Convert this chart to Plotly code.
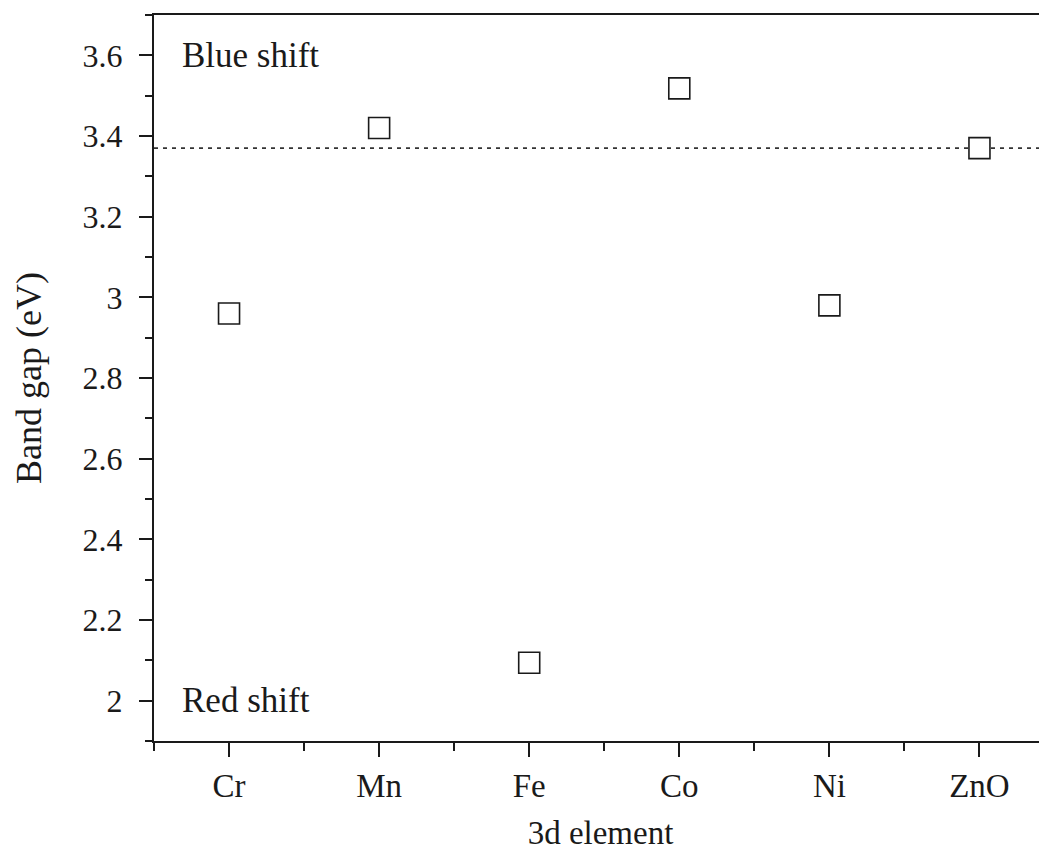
import plotly.graph_objects as go

categories = ["Cr", "Mn", "Fe", "Co", "Ni", "ZnO"]
band_gap = [2.96, 3.42, 2.094, 3.518, 2.98, 3.37]
zno_gap = 3.37
y_ticks = [2, 2.2, 2.4, 2.6, 2.8, 3, 3.2, 3.4, 3.6]
y_tick_text = ["2", "2.2", "2.4", "2.6", "2.8", "3", "3.2", "3.4", "3.6"]

x_idx = list(range(len(categories)))
FONT = "Liberation Serif"
INK = "#1a1a1a"

fig = go.Figure()
fig.add_trace(go.Scatter(
    x=x_idx, y=band_gap, mode="markers",
    marker=dict(symbol="square", size=21, color="white",
                line=dict(color=INK, width=1.6)),
    showlegend=False, cliponaxis=False,
))

fig.add_shape(type="line", xref="paper", x0=0, x1=1, yref="y", y0=zno_gap, y1=zno_gap,
              line=dict(color="#333", width=1.8, dash="4px,5px"), layer="below")

fig.add_annotation(x=-0.33, y=3.6, xref="x", yref="y", text="Blue shift", showarrow=False,
                   xanchor="left", yanchor="middle", font=dict(family=FONT, size=35, color=INK))
fig.add_annotation(x=-0.33, y=2.0, xref="x", yref="y", text="Red shift", showarrow=False,
                   xanchor="left", yanchor="middle", font=dict(family=FONT, size=35, color=INK))

fig.update_layout(
    width=1039, height=846,
    margin=dict(l=146, r=0, t=7, b=113),
    paper_bgcolor="white", plot_bgcolor="white",
    font=dict(family=FONT, size=32, color=INK),
    xaxis=dict(
        range=[-0.5, 5.45], tickmode="array", tickvals=x_idx, ticktext=categories,
        showline=True, linecolor=INK, linewidth=2, mirror=True,
        ticks="outside", ticklen=14, tickwidth=1.6, tickcolor=INK,
        showgrid=False, zeroline=False, ticklabelstandoff=0,
        minor=dict(tickmode="linear", tick0=-0.5, dtick=1, ticks="outside",
                   ticklen=8, tickwidth=1.6, tickcolor=INK, showgrid=False),
        tickfont=dict(family=FONT, size=33),
        title=dict(text="3d element", font=dict(family=FONT, size=33), standoff=18),
    ),
    yaxis=dict(
        range=[1.9, 3.7], tickmode="array", tickvals=y_ticks, ticktext=y_tick_text,
        showline=True, linecolor=INK, linewidth=2,
        ticks="outside", ticklen=13, tickwidth=1.6, tickcolor=INK,
        showgrid=False, zeroline=False, ticklabelstandoff=10,
        minor=dict(tickmode="linear", tick0=1.9, dtick=0.1, ticks="outside",
                   ticklen=7, tickwidth=1.6, tickcolor=INK, showgrid=False),
        tickfont=dict(family=FONT, size=32),
        title=dict(text="Band gap (eV)", font=dict(family=FONT, size=36), standoff=30),
    ),
)

fig.write_html("out.html")
